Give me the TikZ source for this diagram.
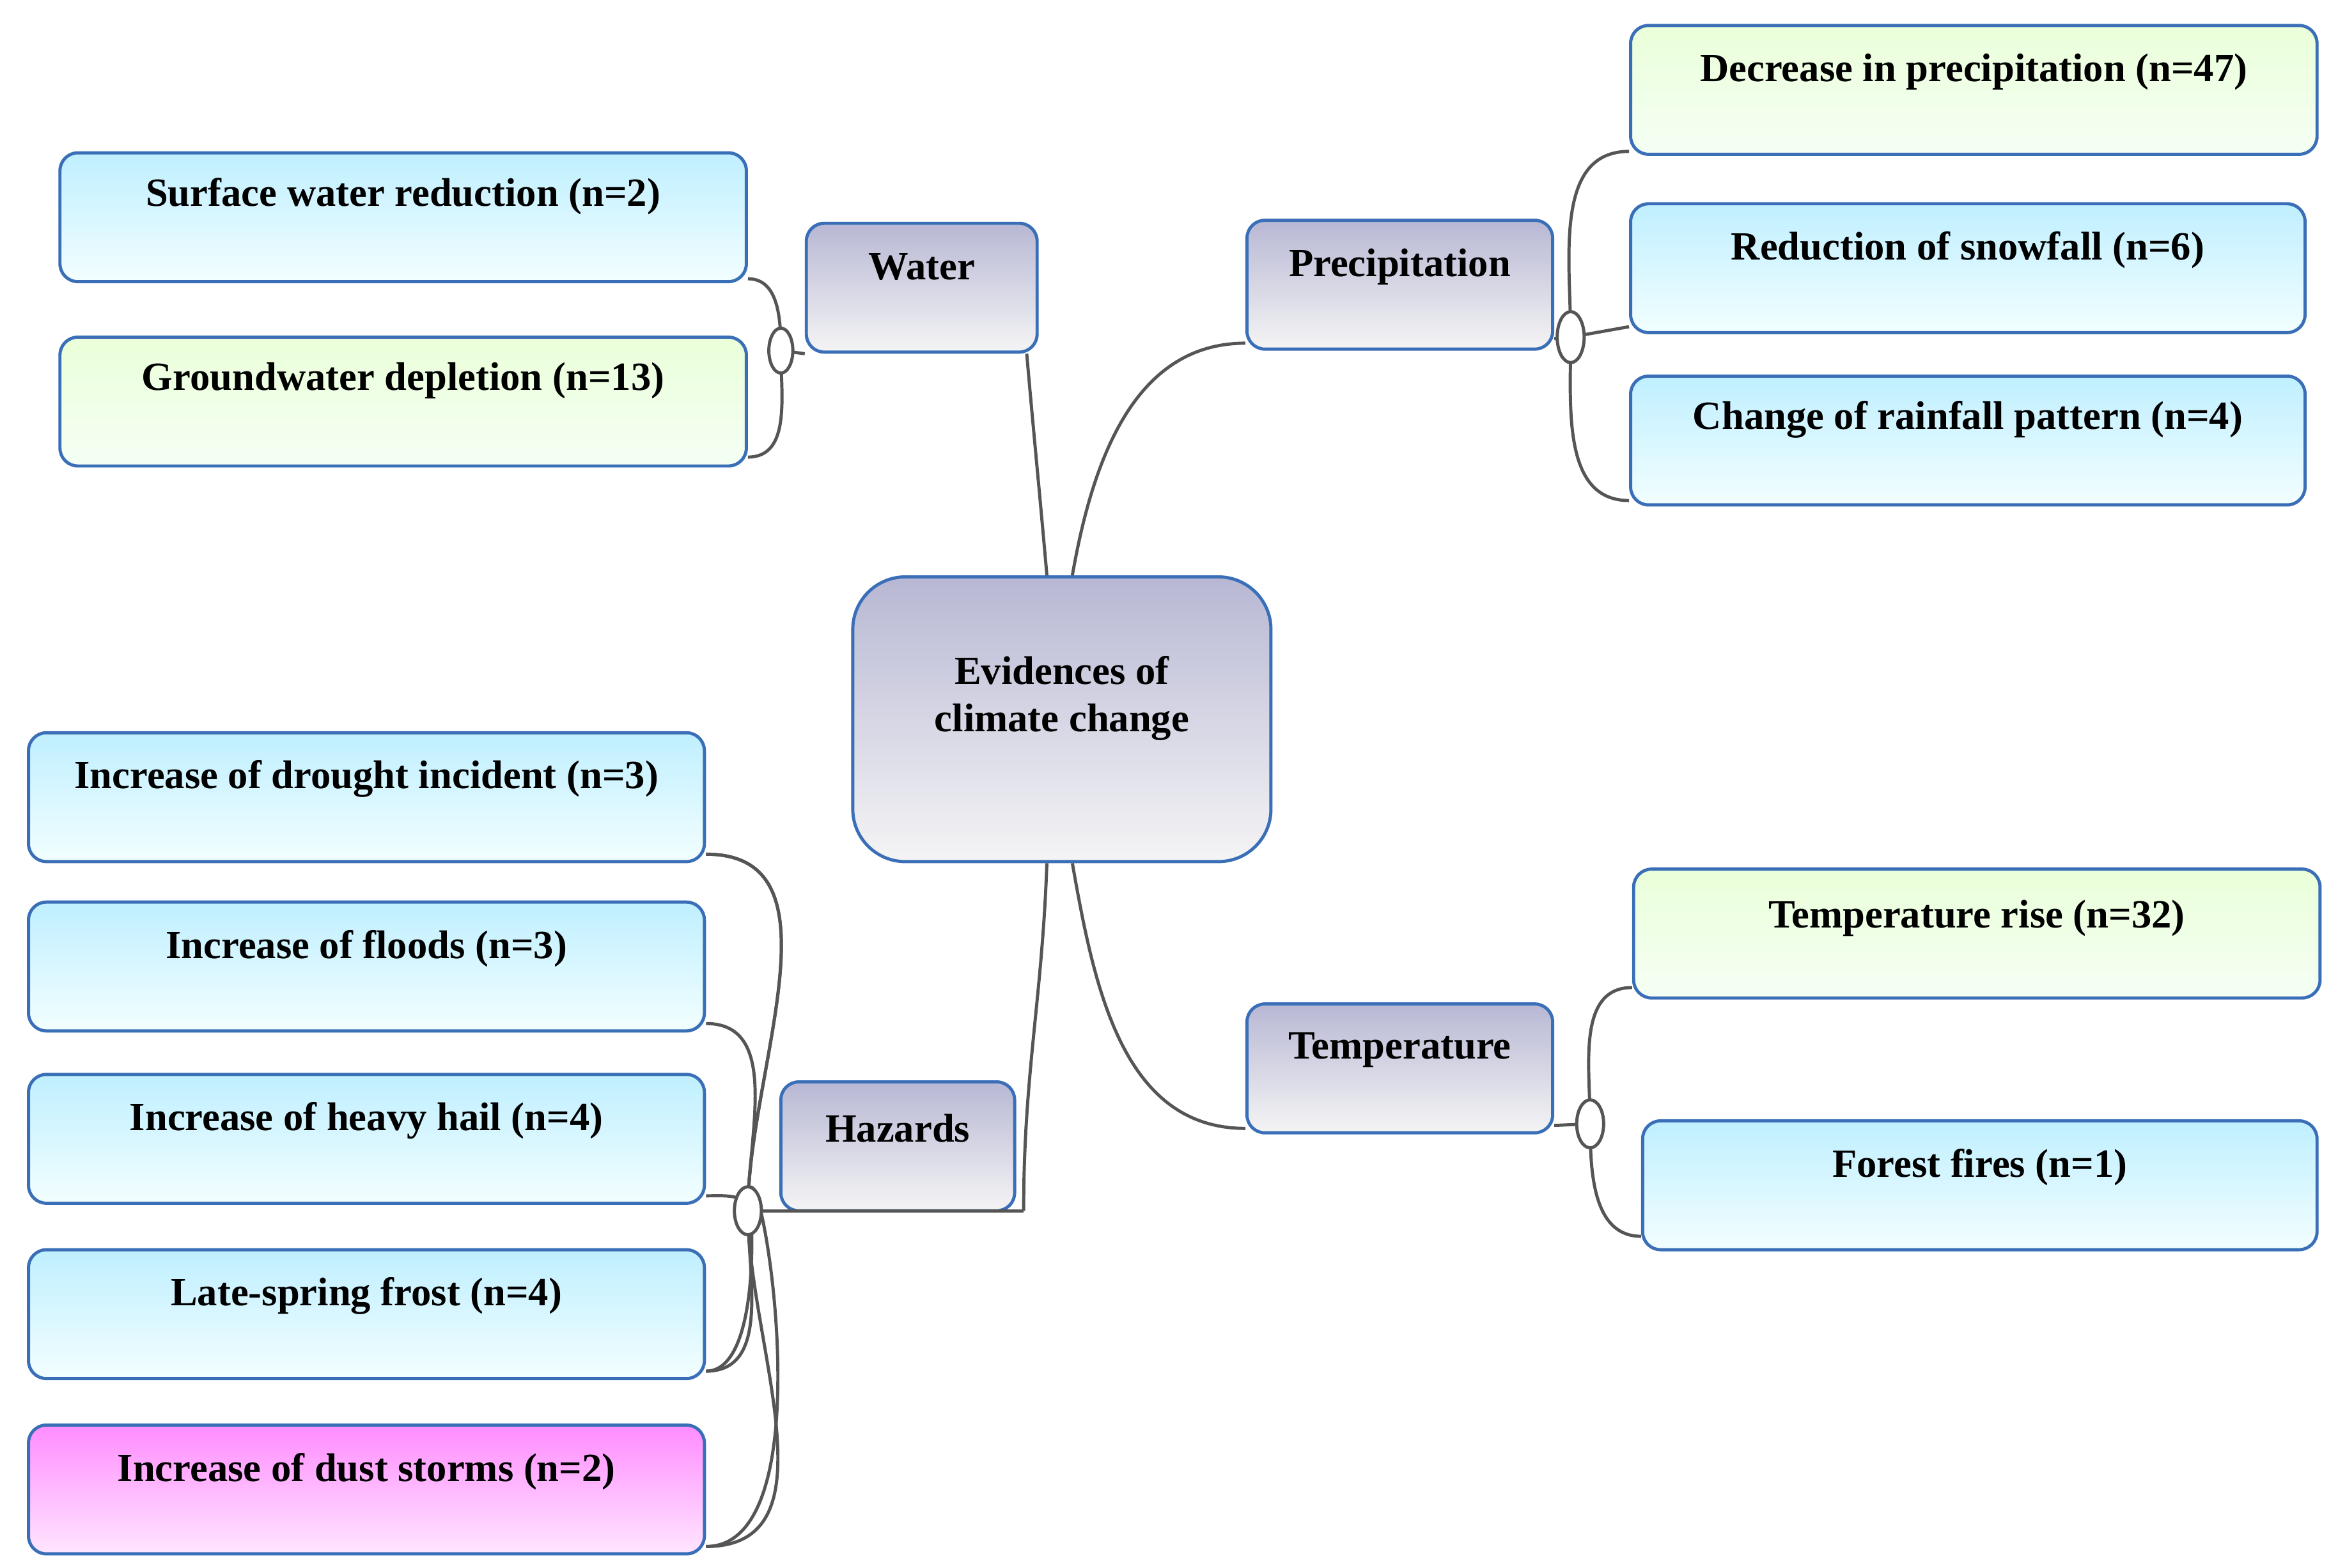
\documentclass[tikz,border=0pt]{standalone}
\usepackage{fontspec}
\setmainfont{Liberation Serif}
\usepackage{tikz}

\definecolor{edge}{HTML}{3A6FB8}
\definecolor{wire}{HTML}{555555}
\tikzset{
  box/.style={draw=edge,line width=0.6pt,rounded corners=0.12cm,minimum height=0.86cm},
  blue box/.style={box,top color=blue!25!cyan!25,bottom color=blue!5!cyan!5},
  green box/.style={box,top color=green!40!lime!15!white,bottom color=green!4},
  pink box/.style={box,top color=magenta!45,bottom color=magenta!10},
  gray box/.style={box,top color=blue!25!gray!45,bottom color=blue!3!gray!8},
  lbl/.style={font=\fontsize{7.6}{9}\selectfont\bfseries,align=center},
  wire/.style={draw=wire,line width=0.6pt},
  junc/.style={draw=wire,fill=white,ellipse,line width=0.6pt,inner sep=0pt,minimum width=0.16cm,minimum height=0.3cm}
}
\usetikzlibrary{shapes.geometric}

\begin{document}
\begin{tikzpicture}
\useasboundingbox (0,0) rectangle (15.6,10.46);
% wires first
\coordinate (wj) at (5.21,8.12);
\coordinate (pj) at (10.48,8.21);
\coordinate (hj) at (4.99,2.38);
\coordinate (tj) at (10.61,2.96);
\coordinate (hc) at (6.83,2.38);

\node [blue box,minimum width=4.58cm] (sw) at (2.69,9.01) {};
\node [green box,minimum width=4.58cm] (gw) at (2.69,7.78) {};
\node [gray box,minimum width=1.54cm] (water) at (6.15,8.54) {};
\node [gray box,minimum width=2.04cm] (precip) at (9.34,8.56) {};
\node [green box,minimum width=4.58cm] (dp) at (13.17,9.86) {};
\node [blue box,minimum width=4.50cm] (sn) at (13.13,8.67) {};
\node [blue box,minimum width=4.50cm] (rf) at (13.13,7.52) {};
\node [gray box,minimum width=2.79cm,minimum height=1.9cm,rounded corners=0.35cm] (ctr) at (7.085,5.66) {};
\node [blue box,minimum width=4.51cm] (dr) at (2.445,5.14) {};
\node [blue box,minimum width=4.51cm] (fl) at (2.445,4.01) {};
\node [blue box,minimum width=4.51cm] (hl) at (2.445,2.86) {};
\node [blue box,minimum width=4.51cm] (fr) at (2.445,1.69) {};
\node [pink box,minimum width=4.51cm] (ds) at (2.445,0.52) {};
\node [gray box,minimum width=1.56cm] (haz) at (5.99,2.81) {};
\node [gray box,minimum width=2.04cm] (temp) at (9.34,3.33) {};
\node [green box,minimum width=4.58cm] (tr) at (13.19,4.23) {};
\node [blue box,minimum width=4.50cm] (ff) at (13.21,2.55) {};

% labels
\node [lbl] at ([yshift=-0.3cm]sw.north) {Surface water reduction (n=2)};
\node [lbl] at ([yshift=-0.3cm]gw.north) {Groundwater depletion (n=13)};
\node [lbl] at ([yshift=-0.3cm]water.north) {Water};
\node [lbl] at ([yshift=-0.32cm]precip.north) {Precipitation};
\node [lbl] at ([yshift=-0.32cm]dp.north) {Decrease in precipitation (n=47)};
\node [lbl] at ([yshift=-0.32cm]sn.north) {Reduction of snowfall (n=6)};
\node [lbl] at ([yshift=-0.3cm]rf.north) {Change of rainfall pattern (n=4)};
\node [lbl] at ([yshift=-0.82cm]ctr.north) {Evidences of\\climate change};
\node [lbl] at ([yshift=-0.32cm]dr.north) {Increase of drought incident (n=3)};
\node [lbl] at ([yshift=-0.32cm]fl.north) {Increase of floods (n=3)};
\node [lbl] at ([yshift=-0.32cm]hl.north) {Increase of heavy hail (n=4)};
\node [lbl] at ([yshift=-0.32cm]fr.north) {Late-spring frost (n=4)};
\node [lbl] at ([yshift=-0.32cm]ds.north) {Increase of dust storms (n=2)};
\node [lbl] at ([yshift=-0.32cm]haz.north) {Hazards};
\node [lbl] at ([yshift=-0.32cm]temp.north) {Temperature};
\node [lbl] at ([yshift=-0.34cm]tr.north) {Temperature rise (n=32)};
\node [lbl] at ([yshift=-0.32cm]ff.north) {Forest fires (n=1)};

% connectors
\draw [wire] ([xshift=-0.1cm]ctr.north) to[out=95,in=-85] ([xshift=-0.08cm]water.south east);
\draw [wire] ([xshift=0.07cm]ctr.north) to[out=80,in=180] ([yshift=0.05cm]precip.south west);
\draw [wire] ([xshift=-0.1cm]ctr.south) to[out=-92,in=90] (hc);
\draw [wire] ([xshift=0.07cm]ctr.south) to[out=-80,in=180] ([yshift=0.04cm]temp.south west);
\draw [wire] (wj) -- (water.south west);
\draw [wire] (pj) -- ([yshift=0.08cm]precip.south east);
\draw [wire] (hj) -- (hc);
\draw [wire] (tj) -- ([yshift=0.06cm]temp.south east);
\draw [wire] (wj) to[out=90,in=0] ([yshift=0.03cm]sw.south east);
\draw [wire] (wj) to[out=-90,in=0] ([yshift=0.07cm]gw.south east);
\draw [wire] (pj) to[out=90,in=180] ([yshift=0.03cm]dp.south west);
\draw [wire] (pj) -- ([yshift=0.05cm]sn.south west);
\draw [wire] (pj) to[out=-90,in=180] ([yshift=0.04cm]rf.south west);
\draw [wire] (tj) to[out=90,in=180] ([yshift=0.08cm]tr.north west|-tr.south);
\draw [wire] (tj) to[out=-90,in=180] ([yshift=0.1cm]ff.south west);
\foreach \b in {dr,fl,hl,fr,ds}
  \draw [wire] (hj) to[out=90,in=0] ([yshift=0.06cm]\b.south east);
\draw [wire] (hj) to[out=90,in=0] ([yshift=0.06cm]dr.south east);
\foreach \b in {fr,ds}
  \draw [wire] (hj) to[out=-90,in=0] ([yshift=0.06cm]\b.south east);
\node [junc] (wjn) at (wj) {};
\node [junc,minimum width=0.18cm,minimum height=0.34cm] (pjn) at (pj) {};
\node [junc,minimum width=0.18cm,minimum height=0.32cm] (hjn) at (hj) {};
\node [junc,minimum width=0.18cm,minimum height=0.32cm] (tjn) at (tj) {};
\end{tikzpicture}
\end{document}
